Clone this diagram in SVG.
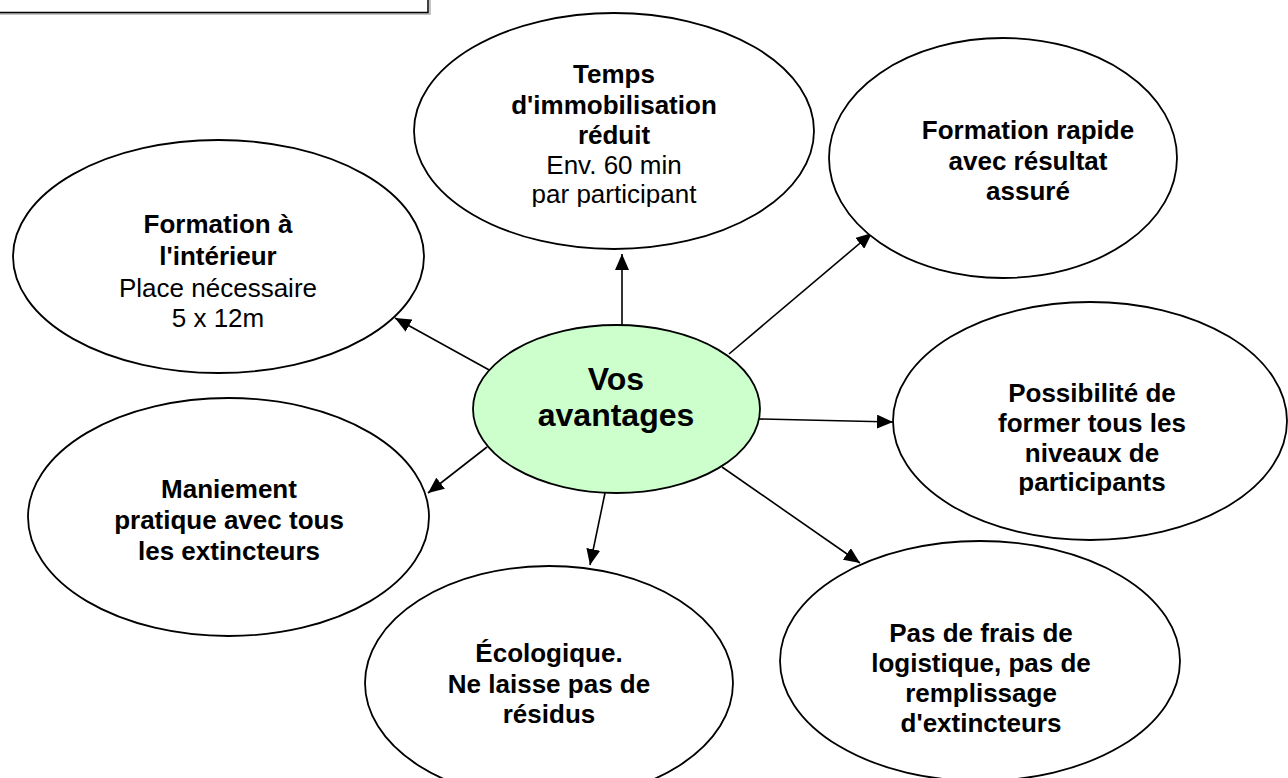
<svg xmlns="http://www.w3.org/2000/svg" width="1288" height="778" viewBox="0 0 1288 778">
<style>
.node{fill:#ffffff;stroke:#000000;stroke-width:1.8}
.center{fill:#ccffcc;stroke:#000000;stroke-width:1.8}
.t{font-family:"Liberation Sans",Arial,sans-serif;font-size:26px;fill:#000000;text-anchor:middle}
.b{font-weight:bold}
.big{font-size:32px;font-weight:bold}
.conn{stroke:#000000;stroke-width:1.6;fill:none;marker-end:url(#arrow)}
</style>
<defs>
<marker id="arrow" markerUnits="userSpaceOnUse" markerWidth="18" markerHeight="14" refX="16" refY="7" orient="auto">
<path d="M0,0 L16,7 L0,14 Z" fill="#000000"/>
</marker>
<clipPath id="clipTemps"><rect x="400" y="0" width="440" height="207"/></clipPath>
<clipPath id="clipPoss"><rect x="880" y="290" width="408" height="205"/></clipPath>
</defs>
<rect width="1288" height="778" fill="#ffffff"/>
<g id="topbox">
<rect x="-4" y="-20" width="434" height="34" fill="none" stroke="#b0b0b0" stroke-width="1.5"/>
<rect x="-4" y="-22" width="432" height="34.5" fill="#ffffff" stroke="#000000" stroke-width="1.5"/>
</g>
<g id="connectors">
<line class="conn" x1="622" y1="325" x2="622" y2="254"/>
<line class="conn" x1="729" y1="354" x2="872" y2="233"/>
<line class="conn" x1="759" y1="419" x2="893" y2="422"/>
<line class="conn" x1="722" y1="467" x2="860" y2="563"/>
<line class="conn" x1="605" y1="493" x2="590" y2="565"/>
<line class="conn" x1="487" y1="447" x2="428" y2="493"/>
<line class="conn" x1="491" y1="371" x2="395" y2="318"/>
</g>
<g id="node-temps">
<ellipse class="node" cx="614" cy="131" rx="200" ry="118"/>
<g clip-path="url(#clipTemps)">
<text class="t b" x="614" y="83">Temps</text>
<text class="t b" x="614" y="114">d'immobilisation</text>
<text class="t b" x="614" y="144">réduit</text>
<text class="t" x="614" y="174">Env. 60 min</text>
<text class="t" x="614" y="203">par participant</text>
</g>
</g>
<g id="node-rapide">
<ellipse class="node" cx="1003" cy="158" rx="174" ry="120"/>
<text class="t b" x="1028" y="139">Formation rapide</text>
<text class="t b" x="1028" y="170">avec résultat</text>
<text class="t b" x="1028" y="200">assuré</text>
</g>
<g id="node-interieur">
<ellipse class="node" cx="218.5" cy="256.5" rx="205.5" ry="116.5"/>
<text class="t b" x="218" y="233">Formation à</text>
<text class="t b" x="218" y="265">l'intérieur</text>
<text class="t" x="218" y="297">Place nécessaire</text>
<text class="t" x="218" y="327">5 x 12m</text>
</g>
<g id="node-possibilite">
<ellipse class="node" cx="1090" cy="421" rx="197" ry="119"/>
<g clip-path="url(#clipPoss)">
<text class="t b" x="1092" y="402">Possibilité de</text>
<text class="t b" x="1092" y="432">former tous les</text>
<text class="t b" x="1092" y="462">niveaux de</text>
<text class="t b" x="1092" y="491">participants</text>
</g>
</g>
<g id="node-center">
<ellipse class="center" cx="616.5" cy="409" rx="143.5" ry="84"/>
<text class="t big" x="616" y="390">Vos</text>
<text class="t big" x="616" y="426">avantages</text>
</g>
<g id="node-maniement">
<ellipse class="node" cx="228.5" cy="517" rx="200.5" ry="119"/>
<text class="t b" x="229" y="498">Maniement</text>
<text class="t b" x="229" y="529">pratique avec tous</text>
<text class="t b" x="229" y="560">les extincteurs</text>
</g>
<g id="node-ecologique">
<ellipse class="node" cx="549" cy="683" rx="184" ry="117"/>
<text class="t b" x="549" y="662">Écologique.</text>
<text class="t b" x="549" y="693">Ne laisse pas de</text>
<text class="t b" x="549" y="723">résidus</text>
</g>
<g id="node-frais">
<ellipse class="node" cx="980" cy="661" rx="200" ry="120"/>
<text class="t b" x="981" y="642">Pas de frais de</text>
<text class="t b" x="981" y="672">logistique, pas de</text>
<text class="t b" x="981" y="702">remplissage</text>
<text class="t b" x="981" y="732">d'extincteurs</text>
</g>
</svg>
